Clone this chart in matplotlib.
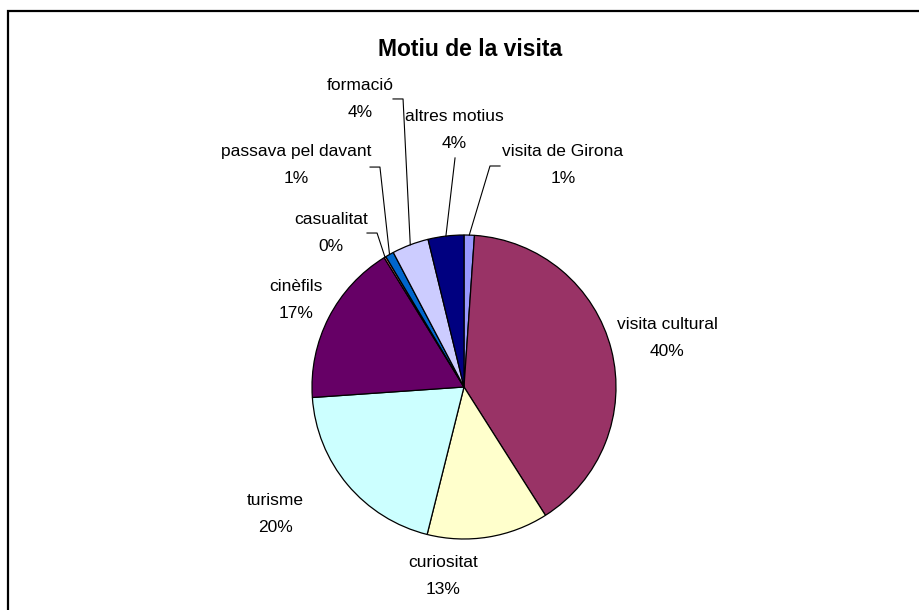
import matplotlib.pyplot as plt
from matplotlib.patches import Rectangle
import numpy as np

plt.rcParams['font.family'] = ['Liberation Sans', 'DejaVu Sans']

# dades (percentatge de visitants per motiu)
motius = ['visita de Girona', 'visita cultural', 'curiositat', 'turisme', 'cinèfils',
          'casualitat', 'passava pel davant', 'formació', 'altres motius']
valors = [1.1, 39.9, 12.9, 20.0, 17.3, 0.2, 0.9, 3.9, 3.8]
colors = ['#9999FF', '#993366', '#FFFFCC', '#CCFFFF', '#660066',
          '#FF8080', '#0066CC', '#CCCCFF', '#000080']

# posicio de les etiquetes (en radis del pastis)
pos_etiquetes = [(0.651, 1.461), (1.336, 0.322), (-0.138, -1.243), (-1.243, -0.836),
                 (-1.105, 0.572), (-0.875, 1.013), (-1.105, 1.461), (-0.684, 1.895),
                 (-0.066, 1.691)]
# linies guia: inici i colze (None = sense linia)
guies = [((0.237, 1.454), (0.171, 1.454)), None, None, None, None,
         ((-0.638, 1.013), (-0.572, 1.013)), ((-0.618, 1.447), (-0.553, 1.447)),
         ((-0.467, 1.895), (-0.401, 1.895)), ((-0.059, 1.507), None)]

W, H = 920, 610
fig = plt.figure(figsize=(W / 100, H / 100), dpi=100)

# marc
fig.patches.append(Rectangle((8 / W, -0.1), 2, 1 - 11 / H + 0.1, transform=fig.transFigure,
                             fill=False, edgecolor='black', linewidth=1.6))

cx, cy, r = 464, 387, 152
ax = fig.add_axes([(cx - r) / W, (H - cy - r) / H, 2 * r / W, 2 * r / H])
wedges, _ = ax.pie(valors, colors=colors, startangle=90, counterclock=False,
                   wedgeprops=dict(edgecolor='black', linewidth=0.9))
ax.set_xlim(-1, 1)
ax.set_ylim(-1, 1)

total = sum(valors)
for w, nom, v, (lx, ly), g in zip(wedges, motius, valors, pos_etiquetes, guies):
    # dues linies: nom i percentatge
    ax.annotate(nom, (lx, ly), xytext=(0, 9.8), textcoords='offset points',
                ha='center', va='center', fontsize=12.5, annotation_clip=False)
    ax.annotate(f'{round(v / total * 100)}%', (lx, ly), xytext=(0, -9.8),
                textcoords='offset points', ha='center', va='center', fontsize=12.5,
                annotation_clip=False)
    if g is not None:
        ang = np.deg2rad((w.theta1 + w.theta2) / 2)
        fi = (np.cos(ang), np.sin(ang))
        punts = [g[0]] + ([g[1]] if g[1] is not None else []) + [fi]
        xs, ys = zip(*punts)
        ax.plot(xs, ys, color='black', linewidth=0.8, clip_on=False)

fig.text(470 / W, 1 - 50 / H, 'Motiu de la visita', ha='center', va='center',
         fontsize=16.5, fontweight='bold')

fig.savefig('out.png', dpi=100)
